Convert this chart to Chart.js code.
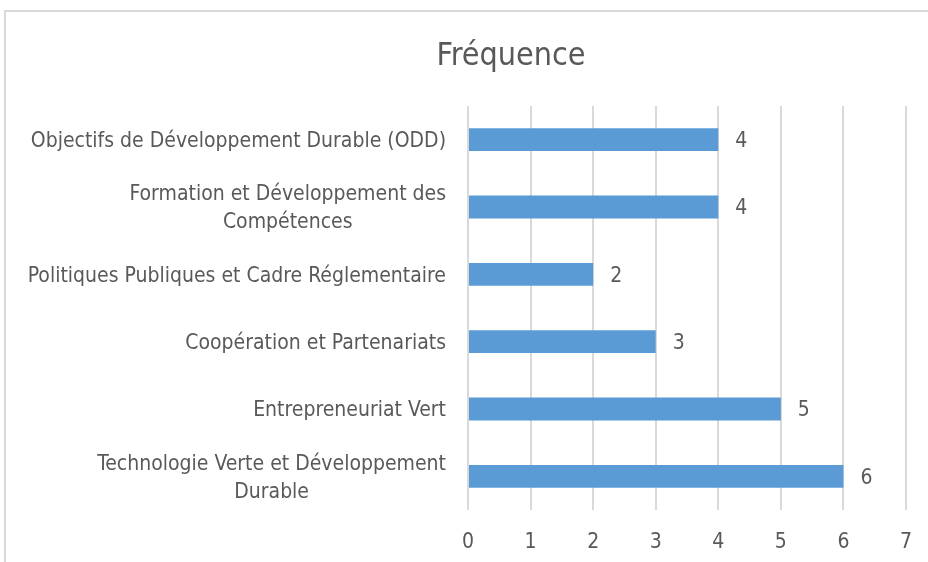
<!DOCTYPE html>
<html>
<head>
<meta charset="utf-8">
<script src="https://cdn.jsdelivr.net/npm/chart.js@4"></script>
<style>
    html, body { margin: 0; padding: 0; background: #fff; overflow: hidden; }
    #frame { position: absolute; left: 4px; top: 10px; width: 1000px; height: 700px; border: 2px solid #d9d9d9; box-sizing: border-box; }
    #chart { position: absolute; left: 0; top: 0; }
</style>
</head>
<body>
<div id="frame"></div>
<canvas id="chart" width="928" height="562"></canvas>
<script>
// données du graphique
const categories = [
    'Objectifs de Développement Durable (ODD)',
    ['Formation et Développement des', 'Compétences'],
    'Politiques Publiques et Cadre Réglementaire',
    'Coopération et Partenariats',
    'Entrepreneuriat Vert',
    ['Technologie Verte et Développement', 'Durable']
];
const frequences = [4, 4, 2, 3, 5, 6];
const axisMin = 0;
const axisMax = 7;
const chartTitle = 'Fréquence';

const fontFamily = "'Liberation Sans Narrow', 'DejaVu Sans Condensed', 'Liberation Sans', sans-serif";
const textColor = '#595959';

// titre, étiquettes de catégories (centrées façon Excel) et valeurs
const excelText = {
    id: 'excelText',
    afterDatasetsDraw(chart) {
        const ctx = chart.ctx;
        const yScale = chart.scales.y;
        const meta = chart.getDatasetMeta(0);
        ctx.save();
        ctx.fillStyle = textColor;
        ctx.textBaseline = 'middle';

        // titre
        ctx.font = '32px ' + fontFamily;
        ctx.textAlign = 'center';
        ctx.fillText(chartTitle, 511, 57);

        // catégories
        ctx.font = '21px ' + fontFamily;
        const lineH = 28;
        const rightEdge = yScale.right - 22;
        categories.forEach((lab, i) => {
            const lines = Array.isArray(lab) ? lab : [lab];
            const maxW = Math.max(...lines.map(l => ctx.measureText(l).width));
            const cx = rightEdge - maxW / 2;
            const cy = yScale.getPixelForValue(i) + 2;
            const y0 = cy - (lines.length - 1) * lineH / 2;
            lines.forEach((l, k) => ctx.fillText(l, cx, y0 + k * lineH));
        });

        // valeurs
        ctx.textAlign = 'left';
        meta.data.forEach((bar, i) => {
            ctx.fillText(String(frequences[i]), bar.x + 17, bar.y + 2);
        });
        ctx.restore();
    }
};

new Chart(document.getElementById('chart'), {
    type: 'bar',
    data: {
        labels: categories,
        datasets: [{
            label: chartTitle,
            data: frequences,
            backgroundColor: '#5b9bd5',
            borderWidth: 0,
            categoryPercentage: 1,
            barPercentage: 0.34
        }]
    },
    options: {
        responsive: false,
        animation: false,
        indexAxis: 'y',
        layout: { padding: { left: 0, right: 22, top: 106, bottom: 0 } },
        plugins: {
            legend: { display: false },
            tooltip: { enabled: false },
            title: { display: false }
        },
        scales: {
            x: {
                min: axisMin,
                max: axisMax,
                afterFit: (scale) => {
                    scale.height = 52;
                    scale.paddingLeft = 0;
                    scale.paddingRight = 0;
                },
                ticks: { stepSize: 1, color: textColor, padding: 20, font: { family: fontFamily, size: 21 } },
                grid: { color: '#d9d9d9', lineWidth: 2, drawTicks: false },
                border: { display: false }
            },
            y: {
                afterFit: (scale) => { scale.width = 468; },
                ticks: { display: false },
                grid: { display: false },
                border: { display: false }
            }
        }
    },
    plugins: [excelText]
});
</script>
</body>
</html>
